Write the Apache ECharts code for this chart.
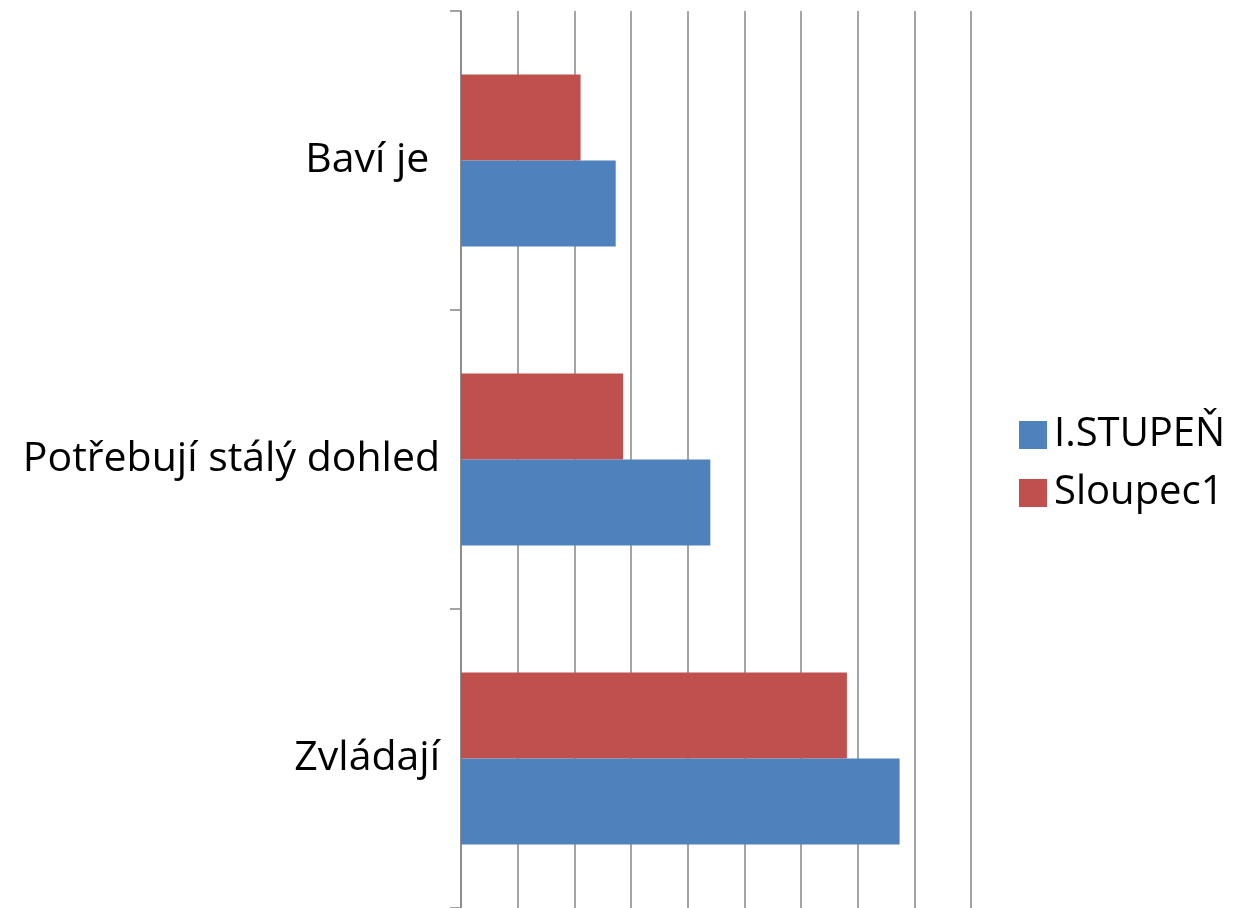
<!DOCTYPE html>
<html>
<head>
<meta charset="utf-8">
<script src="https://cdn.jsdelivr.net/npm/echarts@6/dist/echarts.min.js"></script>
<style>
html,body{margin:0;padding:0;background:#fff;}
#chart{width:1236px;height:908px;}
</style>
</head>
<body>
<div id="chart"></div>
<script>
const categories = ['Zvládají', 'Potřebují stálý dohled', 'Baví je '];
const stupen = [77.4, 44.0, 27.3];
const sloupec1 = [68.1, 28.6, 21.1];
const seriesNames = ['I.STUPEŇ', 'Sloupec1'];

const chart = echarts.init(document.getElementById('chart'));
const font = 'Open Sans';
chart.setOption({
  animation: false,
  backgroundColor: '#ffffff',
  grid: { left: 461, right: 265, top: 11, bottom: -3 },
  legend: {
    orient: 'vertical',
    left: 1014,
    top: 410,
    data: seriesNames,
    itemWidth: 28,
    itemHeight: 28,
    itemGap: 18,
    icon: 'rect',
    textStyle: { fontFamily: font, fontSize: 40, lineHeight: 40, color: '#000', padding: [0, 0, 0, 2] }
  },
  xAxis: {
    type: 'value',
    min: 0,
    max: 90,
    interval: 10,
    axisLabel: { show: false },
    axisLine: { show: false },
    axisTick: { show: false },
    splitLine: { show: true, lineStyle: { color: '#868686', width: 1.5 } }
  },
  yAxis: {
    type: 'category',
    data: categories,
    axisLine: { show: true, lineStyle: { color: '#868686', width: 1.5 } },
    axisTick: { show: true, inside: false, length: 11, interval: 0, lineStyle: { color: '#868686', width: 1.5 } },
    axisLabel: { fontFamily: font, fontSize: 41, color: '#000', margin: 21 }
  },
  series: [
    { name: seriesNames[1], type: 'bar', data: sloupec1, barWidth: 86, barGap: '0%', itemStyle: { color: '#C0504D' } },
    { name: seriesNames[0], type: 'bar', data: stupen, barWidth: 86, barGap: '0%', itemStyle: { color: '#4F81BD' } }
  ]
});
</script>
</body>
</html>
